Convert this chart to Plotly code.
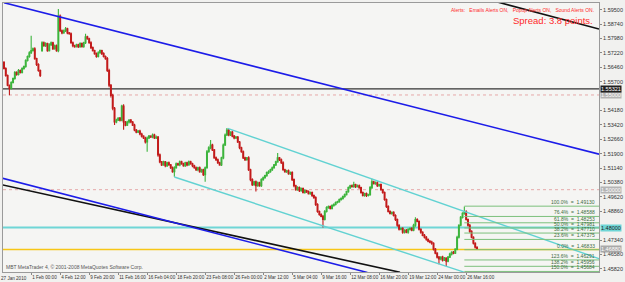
import plotly.graph_objects as go

# ---------------- data (prices in pips, 1 pip = 0.0001) ----------------
first_open = 15671
gap_opens = {21: 15734}
closes_pips = [
15640,15603,15551,15535,15566,15587,15619,15608,15629,15619,
15640,15650,15682,15703,15723,15734,15744,15692,15661,15629,
15603,15776,15760,15771,15734,15765,15776,15744,15760,15734,
15917,15839,15828,15839,15849,15828,15823,15776,15760,15755,
15765,15755,15771,15755,15776,15807,15797,15776,15750,15734,
15718,15703,15723,15734,15718,15703,15692,15629,15551,15498,
15430,15357,15367,15378,15367,15441,15357,15341,15357,15367,
15357,15341,15315,15304,15310,15294,15283,15273,15252,15273,
15283,15278,15289,15273,15278,15184,15147,15131,15147,15126,
15142,15131,15116,15095,15116,15137,15131,15147,15137,15126,
15142,15131,15147,15137,15126,15116,15105,15116,15095,15105,
15079,15116,15200,15221,15236,15210,15168,15158,15142,15131,
15168,15236,15289,15315,15289,15304,15283,15273,15278,15252,
15221,15200,15168,15158,15168,15105,15053,15027,15042,15021,
15037,15021,15053,15063,15074,15090,15095,15105,15116,15131,
15147,15168,15158,15142,15105,15095,15100,15084,15090,15053,
15021,15000,15011,14995,15006,14985,14995,14990,14979,14985,
14969,14958,14922,14885,14869,14859,14843,14885,14906,14911,
14901,14917,14922,14932,14937,14948,14953,14964,14974,14990,
15011,15021,15016,15027,15016,15021,15011,14985,14969,14979,
14969,14974,15011,15042,15032,15037,15021,15027,15000,14985,
14948,14911,14885,14875,14880,14864,14843,14812,14791,14796,
14775,14786,14775,14791,14796,14786,14812,14843,14833,14791,
14775,14759,14749,14738,14728,14723,14717,14686,14665,14644,
14634,14644,14628,14639,14623,14644,14660,14670,14665,14686,
14749,14812,14854,14875,14885,14843,14812,14780,14749,14717,
14696,14688]
wick_up = [
8,6,5,4,6,5,7,6,8,5, 6,5,7,6,8,79,6,8,5,6, 5,8,6,7,5,8,6,5,7,6,
37,8,6,7,10,6,5,7,6,5, 6,5,7,6,5,16,6,5,7,6, 5,6,8,6,5,7,6,8,10,7,
8,6,7,5,6,8,10,6,7,5, 6,5,7,6,5,6,7,5,6,8, 6,5,7,6,8,6,7,5,6,5,
6,7,5,6,8,6,5,7,6,5, 6,5,7,6,5,6,7,5,6,5, 6,7,10,8,26,6,5,7,6,5,
6,8,7,10,6,5,7,6,5,6, 5,6,7,6,5,8,6,7,5,6, 6,5,7,6,5,6,7,5,6,5,
6,26,5,6,8,6,5,7,6,8, 6,5,7,6,5,6,7,5,6,5, 6,5,7,6,5,6,7,8,6,5,
6,5,7,6,5,6,7,5,6,5, 6,5,7,15,5,6,7,5,6,5, 6,5,8,16,5,6,7,5,6,5,
6,5,7,6,5,6,7,5,6,5, 6,5,7,6,5,6,8,11,6,5, 6,5,7,6,5,6,7,5,6,5,
6,5,7,6,5,6,7,5,6,5, 8,6,7,6,26,6,5,7,6,5, 6,5]
wick_dn = [
6,7,5,37,6,5,7,6,5,6, 5,7,6,5,6,7,5,6,8,7, 8,6,5,7,6,5,6,7,5,6,
8,6,7,5,6,7,5,6,8,6, 5,7,6,5,6,7,5,6,7,5, 6,7,5,6,7,5,6,8,10,12,
10,15,6,5,7,6,40,6,5,7, 6,5,7,6,5,6,7,5,8,52, 6,5,7,6,5,10,7,6,5,7,
6,5,7,6,27,6,5,7,6,5, 6,7,5,6,7,5,6,7,5,6, 7,37,6,5,7,6,5,7,6,5,
6,7,5,6,7,5,6,7,5,6, 7,5,6,7,5,6,8,7,6,31, 6,5,7,6,5,6,7,5,6,5,
6,5,7,6,5,6,7,5,6,7, 8,6,5,7,6,5,6,7,5,6, 7,6,8,7,6,5,42,6,5,7,
6,5,7,6,5,6,7,5,6,5, 6,7,5,6,7,5,6,7,5,6, 7,5,6,7,5,6,7,5,6,7,
6,7,5,6,7,5,8,7,6,5, 7,6,5,7,6,5,6,7,5,6, 7,5,6,7,5,6,8,7,6,7,
27,6,7,5,26,6,5,7,6,5, 6,7,5,6,7,5,6,7,5,6, 6,5]

time_tick_bars = [15, 31, 47, 63, 79, 95, 111, 127, 143, 159, 175, 191, 207, 223, 239, 255]
time_tick_labels = ["1 Feb 00:00", "4 Feb 12:00", "9 Feb 20:00", "11 Feb 16:00", "16 Feb 04:00",
                    "18 Feb 20:00", "23 Feb 08:00", "26 Feb 00:00", "2 Mar 12:00", "5 Mar 04:00",
                    "9 Mar 16:00", "12 Mar 08:00", "16 Mar 20:00", "19 Mar 12:00", "24 Mar 00:00",
                    "26 Mar 16:00"]
first_time_label = "27 Jan 2010"
# price scale labels (those hidden behind line labels are left out)
price_ticks = [1.59500, 1.58740, 1.57980, 1.57220, 1.56460, 1.55700, 1.54180, 1.53420,
               1.52660, 1.51900, 1.51140, 1.50380, 1.49620, 1.48860, 1.47340, 1.46580, 1.45820]

# trend lines: (bar0, price0, bar1, price1)
blue_upper = [0.0, 1.59870, 328.3, 1.51875]
blue_lower = [-1.6, 1.50620, 200.5, 1.45630]
black_upper = [264.7, 1.60100, 328.3, 1.58480]
black_lower = [-1.6, 1.50270, 218.5, 1.45640]
cyan_upper = [123.4, 1.53240, 328.3, 1.46360]
cyan_lower = [94.0, 1.50670, 253.8, 1.45650]

level_black = 1.55321
level_cyan = 1.48000
level_yellow = 1.46840
round_levels = [1.55000, 1.50000]
bid_price = 1.46880

fib_start_bar = 254
fib_high = 1.49130
fib_low = 1.46833
fib_levels = [0.0, 23.6, 38.2, 50.0, 61.8, 76.4, 100.0, 123.6, 138.2, 150.0]

# ---------------- build ----------------
closes = [c / 10000 for c in closes_pips]
opens = []
for i, c in enumerate(closes_pips):
    o = first_open if i == 0 else closes_pips[i - 1]
    o = gap_opens.get(i, o)
    opens.append(o)
highs = [(max(o, c) + u) / 10000 for o, c, u in zip(opens, closes_pips, wick_up)]
lows = [(min(o, c) - d) / 10000 for o, c, d in zip(opens, closes_pips, wick_dn)]
opens = [o / 10000 for o in opens]
bars = list(range(len(closes)))

X_MIN, X_MAX = -0.54, 328.3
Y_MIN, Y_MAX = 1.45655, 1.59855

fig = go.Figure()

for lv in round_levels:
    fig.add_hline(y=lv, line=dict(color="#e6a8a8", width=1, dash="dot"), layer="below")
fig.add_hline(y=level_black, line=dict(color="#333333", width=1.3), layer="below")
fig.add_hline(y=level_cyan, line=dict(color="#6fd6d6", width=2), layer="below")
fig.add_hline(y=level_yellow, line=dict(color="#f7c616", width=1.5), layer="below")

def seg(p, color, width):
    fig.add_trace(go.Scatter(x=[p[0], p[2]], y=[p[1], p[3]], mode="lines",
                             line=dict(color=color, width=width), hoverinfo="skip"))

seg(blue_upper, "#1c1ce8", 1.6)
seg(black_upper, "#111111", 1.6)
seg(black_lower, "#111111", 1.6)
seg(blue_lower, "#1c1ce8", 1.6)
seg(cyan_upper, "#62d2d2", 1.4)
seg(cyan_lower, "#62d2d2", 1.4)

rng = fib_high - fib_low
fib_prices = []
for lv in fib_levels:
    if lv <= 100:
        p = fib_low + lv / 100 * rng
    else:
        p = fib_low - (lv - 100) / 100 * rng
    fib_prices.append(p)
    fig.add_trace(go.Scatter(x=[fib_start_bar, X_MAX], y=[p, p], mode="lines",
                             line=dict(color="#7cc07c", width=1), hoverinfo="skip"))

fig.add_trace(go.Candlestick(
    x=bars, open=opens, high=highs, low=lows, close=closes,
    increasing=dict(line=dict(color="#3cb43c", width=1.1), fillcolor="#3cb43c"),
    decreasing=dict(line=dict(color="#c21a1a", width=1.1), fillcolor="#c21a1a"),
    whiskerwidth=0, hoverinfo="skip"))

ann = []
for lv, p in zip(fib_levels, fib_prices):
    ann.append(dict(x=1, xref="paper", y=p, yref="y", xanchor="right", yanchor="bottom",
                    xshift=-2, yshift=-1, text=f"{lv:.1f}%  =  {p:.5f}", showarrow=False,
                    font=dict(size=5, color="#3d6b3d", family="Liberation Sans")))

def box(price, text, bg, fg):
    ann.append(dict(x=1, xref="paper", y=price, yref="y", xanchor="left", yanchor="middle",
                    xshift=1, text=text, showarrow=False, bgcolor=bg, borderpad=0,
                    font=dict(size=5.5, color=fg, family="Liberation Sans")))

for lv in round_levels:
    box(lv, f"{lv:.5f}", "#b4b4b4", "#ffffff")
box(level_black, f"{level_black:.5f}", "#202020", "#ffffff")
box(level_cyan, f"{level_cyan:.5f}", "#6fd6d6", "#222222")
box(bid_price, f"{bid_price:.5f}", "#a8a8a8", "#ffffff")

ann.append(dict(x=1, xref="paper", y=1, yref="paper", xanchor="right", yanchor="top",
                xshift=-3, yshift=-2, showarrow=False,
                text="Alerts:   Emails Alerts ON,   Popup Alerts ON,   Sound Alerts ON.",
                font=dict(size=5, color="#ff2a2a", family="Liberation Sans")))
ann.append(dict(x=1, xref="paper", y=1, yref="paper", xanchor="right", yanchor="top",
                xshift=-4, yshift=-10, showarrow=False, text="Spread: 3.8 points.",
                font=dict(size=9.5, color="#ff2a2a", family="Liberation Sans")))
ann.append(dict(x=0, xref="paper", y=0, yref="paper", xanchor="left", yanchor="bottom",
                xshift=1, yshift=0, showarrow=False,
                text="MBT MetaTrader 4, © 2001-2008 MetaQuotes Software Corp.",
                font=dict(size=5, color="#555555", family="Liberation Sans")))
ann.append(dict(x=0, xref="paper", y=0, yref="paper", xanchor="left", yanchor="top",
                xshift=-4, yshift=-2, showarrow=False, text=first_time_label,
                font=dict(size=4.6, color="#333333", family="Liberation Sans")))

fig.update_layout(
    width=625, height=282,
    margin=dict(l=2, r=18, t=2, b=9),
    paper_bgcolor="#f1f1ef", plot_bgcolor="#f5f5f3",
    showlegend=False, hovermode=False,
    annotations=ann,
    xaxis=dict(range=[X_MIN, X_MAX], rangeslider=dict(visible=False),
               tickvals=time_tick_bars, ticktext=time_tick_labels, tickangle=0,
               ticklabelposition="outside right", ticks="outside", ticklen=2,
               tickcolor="#888888", tickfont=dict(size=4.6, color="#333333", family="Liberation Sans"),
               showgrid=False, zeroline=False, showline=True, linecolor="#9a9a9a",
               linewidth=1, mirror=True),
    yaxis=dict(range=[Y_MIN, Y_MAX], side="right", tickvals=price_ticks,
               ticktext=[f"{v:.5f}" for v in price_ticks], ticks="outside", ticklen=2,
               tickcolor="#888888", tickfont=dict(size=5.5, color="#333333", family="Liberation Sans"),
               showgrid=False, zeroline=False, showline=True, linecolor="#9a9a9a",
               linewidth=1, mirror=True),
)

fig.write_html("out.html")
